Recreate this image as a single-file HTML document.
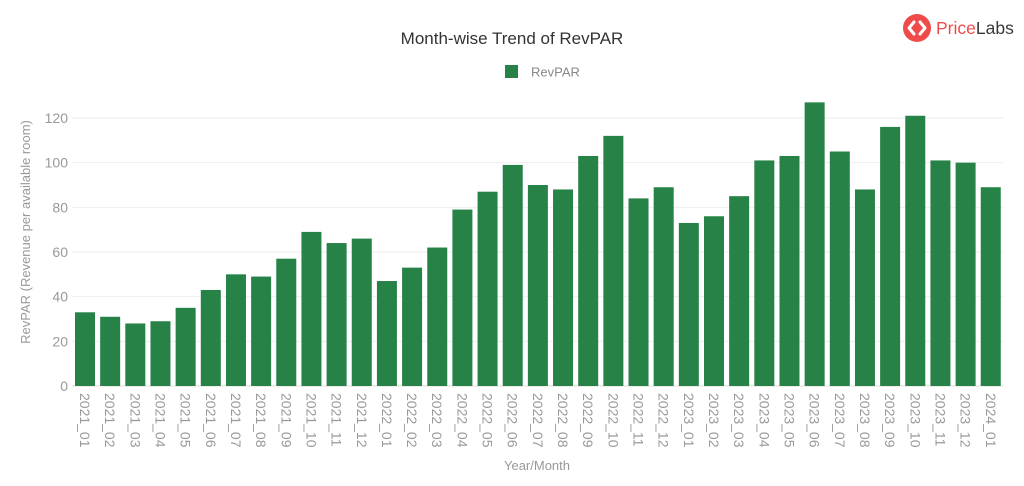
<!DOCTYPE html>
<html><head><meta charset="utf-8"><style>
body{margin:0;background:#fff;width:1024px;height:481px;overflow:hidden}
svg{font-family:"Liberation Sans",sans-serif}
</style></head><body>
<svg width="1024" height="481" xmlns="http://www.w3.org/2000/svg" id="s">
<text x="512" y="44" text-anchor="middle" font-size="17" fill="#333">Month-wise Trend of RevPAR</text>
<rect x="505" y="65" width="13" height="13" fill="#268246"/>
<text x="531" y="76.5" font-size="13" fill="#888">RevPAR</text>
<circle cx="917" cy="28" r="14" fill="#f04b4b"/>
<path d="M914 22 L909 28 L914 34 M920 22 L925 28 L920 34" stroke="#fff" stroke-width="3" fill="none" stroke-linecap="round" stroke-linejoin="round"/>
<text x="936" y="34" font-size="17.5" fill="#f04b4b">Price<tspan fill="#3a3a3a">Labs</tspan></text>
<text transform="translate(30,232) rotate(-90)" text-anchor="middle" font-size="13" fill="#999">RevPAR (Revenue per available room)</text>
<text x="537" y="470" text-anchor="middle" font-size="13" fill="#999">Year/Month</text>
<g id="g"></g>
</svg>
<script>
var v=[33,31,28,29,35,43,50,49,57,69,64,66,47,53,62,79,87,99,90,88,103,112,84,89,73,76,85,101,103,127,105,88,116,121,101,100,89];
var h='',y0=386,k=268/120,x0=72,bw=25.16;
for(var t=0;t<=120;t+=20){var y=y0-t*k;h+='<line x1="72" x2="1003" y1="'+y+'" y2="'+y+'" stroke="'+(t?'#eee':'#ddd')+'" stroke-width="1"/>';
h+='<text x="68" y="'+(y+5)+'" text-anchor="end" font-size="14" fill="#999">'+t+'</text>';}
var lab=[];for(var i=0;i<37;i++){var yr=2021+Math.floor(i/12),m=i%12+1;lab.push(yr+'_'+(m<10?'0':'')+m);}
for(var i=0;i<37;i++){var x=x0+i*bw+3,hh=v[i]*k;
h+='<rect x="'+x+'" y="'+(y0-hh)+'" width="20" height="'+hh+'" fill="#268246"/>';
var cx=x+10;h+='<text transform="translate('+(cx-5)+',393) rotate(90)" font-size="14" fill="#999">'+lab[i]+'</text>';}
document.getElementById('g').innerHTML=h;
</script>
</body></html>
